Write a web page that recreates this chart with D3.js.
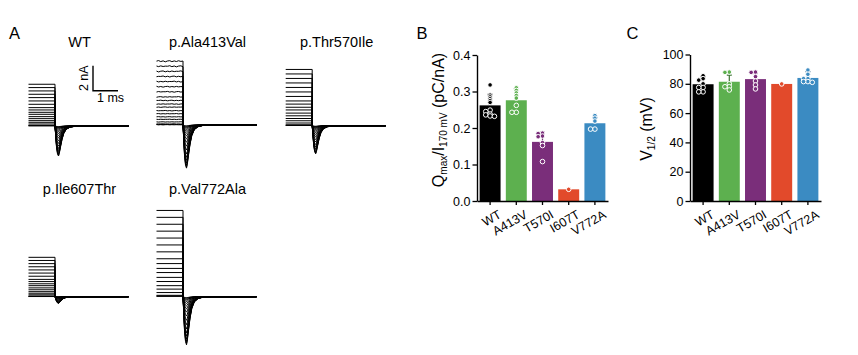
<!DOCTYPE html>
<html><head><meta charset="utf-8">
<script src="https://cdn.jsdelivr.net/npm/d3@7"></script>
<style>
body{margin:0;background:#fff}
svg{display:block}
text{font-family:"Liberation Sans",Arial,Helvetica,sans-serif;fill:#000}
</style>
</head><body>
<svg id="chart" width="858" height="355"></svg>
<script>
// ---------------- DATA ----------------
// Panel A: current traces
const traceNames = ["WT", "p.Ala413Val", "p.Thr570Ile", "p.Ile607Thr", "p.Val772Ala"];
const stepMax = [3.34, 5.1, 4.5, 3.15, 6.9];      // nA, largest step current
const tailMax = [2.4, 3.45, 2.25, 0.53, 3.85];    // nA, largest tail (off) current
const sweepStepRel = [0.004, 0.008, 0.016, 0.048, 0.088, 0.128, 0.176, 0.224, 0.28, 0.328, 0.384, 0.44, 0.52, 0.6, 0.68, 0.76, 0.84, 0.92, 1.0];
const sweepTailRel = [0.02, 0.03, 0.05, 0.07, 0.1, 0.14, 0.19, 0.25, 0.32, 0.4, 0.49, 0.58, 0.67, 0.75, 0.82, 0.88, 0.93, 0.97, 1.0];
const pulseEnd = 1.06;   // ms
const traceEnd = 4.0;    // ms
const tailT =     [0, 0.03, 0.06, 0.1, 0.14, 0.17, 0.22, 0.28, 0.35, 0.45, 0.6, 0.8, 1.1, 2.94];
const tailShape = [0, -0.35, -0.7, -0.93, -1.0, -0.92, -0.7, -0.45, -0.25, -0.11, -0.04, -0.01, 0, 0];
const noisyTrace = [false, true, false, false, false];
const wobbleT = [0, 0.08, 0.16, 0.25, 0.33, 0.42, 0.5, 0.58, 0.67, 0.75, 0.83, 0.92, 1.0];
const wobble = [0.12, -0.06, 0.07, -0.1, 0.05, 0.1, -0.07, 0.06, -0.05, 0.09, -0.03, 0.04, 0.02];
const scaleBarNA = 2;
const scaleBarMS = 1;

// Panels B and C
const categories = ["WT", "A413V", "T570I", "I607T", "V772A"];
const barColors = ["#000000", "#5db04f", "#7a2e7a", "#e24a2b", "#3b8bc2"];
const qMean = [0.262, 0.276, 0.162, 0.032, 0.213];
const qSD = [0.03, 0.032, 0.026, 0, 0.016];
const qPoints = [
  [0.318, 0.29, 0.285, 0.28, 0.275, 0.27, 0.249, 0.245, 0.238, 0.236, 0.233, 0.232],
  [0.31, 0.303, 0.296, 0.289, 0.282, 0.262, 0.243, 0.243],
  [0.186, 0.185, 0.178, 0.176, 0.16, 0.152, 0.108],
  [0.032],
  [0.234, 0.227, 0.219, 0.197, 0.197]
];
const vMean = [79.7, 81.4, 83.2, 79.9, 84.0];
const vSD = [5.2, 4.5, 4.1, 0, 4.3];
const vPoints = [
  [85.5, 83.5, 82.5, 80, 77.5, 77.5, 74.5, 74.5],
  [88, 87.8, 80, 78, 78, 75.8],
  [88, 87.8, 84.9, 81.9, 79.2, 76.5],
  [79.9],
  [89.4, 86.5, 83.5, 83.5, 81.5, 81, 81.5]
];
const qTicks = [0, 0.1, 0.2, 0.3, 0.4];
const vTicks = [0, 20, 40, 60, 80, 100];

// ---------------- DRAWING ----------------
const svg = d3.select("#chart");

// Panel letters
[["A", 9], ["B", 416.5], ["C", 626.5]].forEach(([t, x]) => {
  svg.append("text").attr("x", x).attr("y", 39).attr("font-size", 16.5).text(t);
});

// ---- Panel A ----
const traceOrigins = [[28.5, 126], [156.5, 125], [285.7, 125.7], [28.5, 296.7], [156.5, 296.7]];
const titleY = [46.7, 46.7, 46.7, 194, 194];
const pxPerMs = 25, pxPerNA = 12.5;

function sweepPoints(p, s) {
  const a = stepMax[p] * sweepStepRel[s];
  const b = tailMax[p] * sweepTailRel[s];
  const pts = [];
  if (noisyTrace[p]) {
    wobbleT.forEach((t, k) => {
      const w = wobble[(k + s * 5) % wobble.length];
      pts.push([t * pulseEnd, a + w * 0.35 * (0.3 + sweepStepRel[s])]);
    });
  } else {
    pts.push([0, a], [pulseEnd, a]);
  }
  tailT.forEach((t, k) => pts.push([pulseEnd + t, b * tailShape[k]]));
  pts.push([traceEnd, 0]);
  return pts;
}

traceNames.forEach((name, p) => {
  const [x0, y0] = traceOrigins[p];
  const xs = d3.scaleLinear().domain([0, traceEnd]).range([x0, x0 + traceEnd * pxPerMs]);
  const ys = d3.scaleLinear().domain([0, 1]).range([y0, y0 - pxPerNA]);
  const line = d3.line().x(d => xs(d[0])).y(d => ys(d[1]));
  const g = svg.append("g");
  sweepStepRel.forEach((_, s) => {
    g.append("path").attr("d", line(sweepPoints(p, s)))
      .attr("fill", "none").attr("stroke", "#000").attr("stroke-width", 1)
      .attr("stroke-linejoin", "round");
  });
  svg.append("text").attr("x", x0 + 51).attr("y", titleY[p])
    .attr("text-anchor", "middle").attr("font-size", 14.5).text(name);
});

// Scale bar
{
  const sx = 93, sy = 90.7;
  const xs = d3.scaleLinear().domain([0, 1]).range([sx, sx + pxPerMs]);
  const ys = d3.scaleLinear().domain([0, 1]).range([sy, sy - pxPerNA]);
  svg.append("path")
    .attr("d", `M${sx},${ys(scaleBarNA)}V${sy}H${xs(scaleBarMS)}`)
    .attr("fill", "none").attr("stroke", "#000").attr("stroke-width", 1.4);
  svg.append("text").attr("transform", `translate(${sx - 5.5},${(ys(scaleBarNA) + sy) / 2}) rotate(-90)`)
    .attr("text-anchor", "middle").attr("font-size", 12.5).text(scaleBarNA + " nA");
  svg.append("text").attr("x", sx + 4).attr("y", sy + 11)
    .attr("font-size", 12.5).text(scaleBarMS + " ms");
}

// ---- Bar panels ----
function dodge(values, y, r) {
  const placed = [];
  const order = values.map((v, i) => i).sort((a, b) => values[b] - values[a]);
  const out = new Array(values.length);
  order.forEach(i => {
    const py = y(values[i]);
    const cands = [0, -1, 1, -2, 2, -3, 3];
    for (const c of cands) {
      const px = c * r * 1.9;
      const hit = placed.some(q => Math.abs(q.y - py) < 1.6 && Math.abs(q.x - px) < r * 1.9);
      if (!hit) { placed.push({x: px, y: py}); out[i] = px; break; }
    }
    if (out[i] === undefined) out[i] = 0;
  });
  return out;
}

function barPanel(cfg) {
  const x = d3.scaleBand().domain(categories).range(cfg.xr).paddingInner(0.2).paddingOuter(0.1);
  const y = d3.scaleLinear().domain(cfg.yd).range([201, cfg.yTop]);
  const g = svg.append("g");
  // bars
  g.selectAll("rect.bar").data(categories).join("rect")
    .attr("x", d => x(d)).attr("width", x.bandwidth())
    .attr("y", (d, i) => y(cfg.mean[i])).attr("height", (d, i) => y(0) - y(cfg.mean[i]))
    .attr("fill", (d, i) => barColors[i]);
  // error bars
  categories.forEach((c, i) => {
    if (!cfg.sd[i]) return;
    const cx = x(c) + x.bandwidth() / 2;
    const col = i === 0 ? "#000" : d3.color(barColors[i]).darker(1.2).formatHex();
    g.append("path")
      .attr("d", `M${cx},${y(cfg.mean[i])}V${y(cfg.mean[i] + cfg.sd[i])}M${cx - 2.5},${y(cfg.mean[i] + cfg.sd[i])}H${cx + 2.5}`)
      .attr("stroke", col).attr("stroke-width", 1.2).attr("fill", "none");
  });
  // points
  const r = 2.3;
  categories.forEach((c, i) => {
    const cx = x(c) + x.bandwidth() / 2;
    const offs = dodge(cfg.points[i], y, r);
    cfg.points[i].forEach((v, k) => {
      g.append("circle").attr("cx", cx + offs[k]).attr("cy", y(v)).attr("r", r)
        .attr("fill", barColors[i]).attr("stroke", "#fff").attr("stroke-width", 1);
    });
  });
  // axes
  const ya = g.append("g").attr("transform", `translate(${cfg.xr[0]},0)`)
    .call(d3.axisLeft(y).tickValues(cfg.ticks).tickSize(4.5).tickSizeOuter(0).tickPadding(2).tickFormat(cfg.fmt));
  const xa = g.append("g").attr("transform", `translate(0,201)`)
    .call(d3.axisBottom(x).tickSize(4).tickSizeOuter(0));
  [ya, xa].forEach(a => {
    a.select(".domain").attr("stroke", "#000").attr("stroke-width", 1.4);
    a.selectAll(".tick line").attr("stroke", "#000").attr("stroke-width", 1.3);
    a.selectAll("text").attr("font-size", 12.5).attr("fill", "#000")
      .attr("font-family", '"Liberation Sans",Arial,sans-serif');
  });
  xa.selectAll(".tick text")
    .attr("y", 0).attr("dy", 0).attr("x", 0)
    .attr("text-anchor", "end")
    .attr("transform", "translate(12,16) rotate(-30)");
  // y label
  const lab = g.append("text")
    .attr("transform", `translate(${cfg.labX},${cfg.labY}) rotate(-90)`)
    .attr("text-anchor", "middle").attr("font-size", 16);
  cfg.label(lab);
}

barPanel({
  xr: [477, 608], yd: [0, 0.4], yTop: 55, mean: qMean, sd: qSD, points: qPoints,
  ticks: qTicks, fmt: d3.format(".1f"), labX: 443.5, labY: 120,
  label: t => {
    t.append("tspan").text("Q");
    t.append("tspan").attr("font-size", 10).attr("dy", 3).text("max");
    t.append("tspan").attr("dy", -3).text("/I");
    t.append("tspan").attr("font-size", 10).attr("dy", 3).text("170 mV");
    t.append("tspan").attr("dy", -3).text(" (pC/nA)");
  }
});

barPanel({
  xr: [690, 821], yd: [0, 100], yTop: 54.5, mean: vMean, sd: vSD, points: vPoints,
  ticks: vTicks, fmt: d3.format("d"), labX: 652, labY: 129,
  label: t => {
    t.append("tspan").text("V");
    t.append("tspan").attr("font-size", 10).attr("dy", 3).text("1/2");
    t.append("tspan").attr("dy", -3).text(" (mV)");
  }
});
</script>
</body></html>
